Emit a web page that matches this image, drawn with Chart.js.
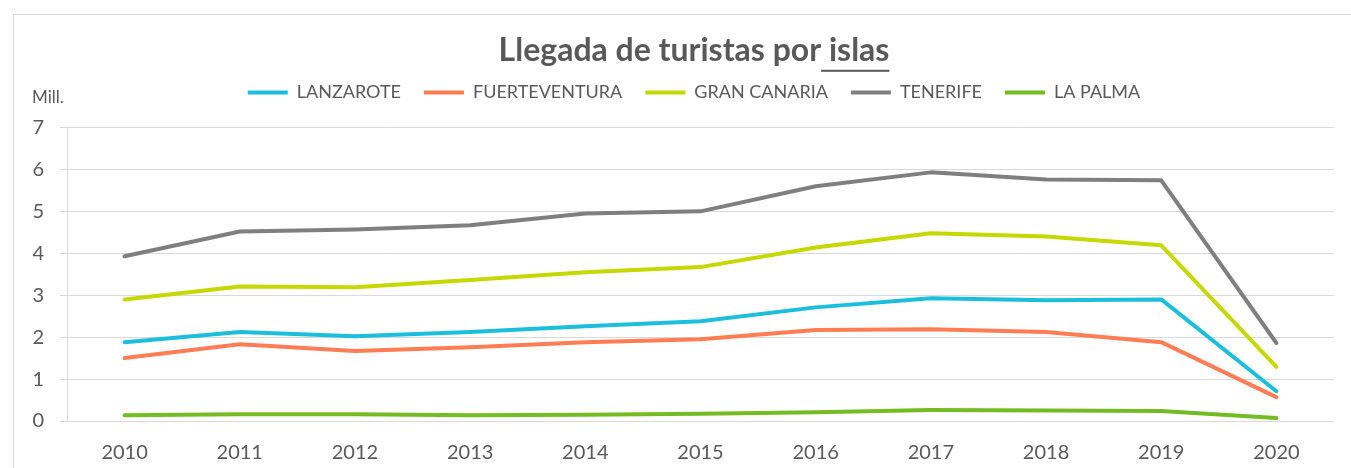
<!DOCTYPE html>
<html><head><meta charset="utf-8">
<script src="https://cdn.jsdelivr.net/npm/chart.js@4/dist/chart.umd.min.js"></script>
<style>
html,body{margin:0;padding:0;overflow:hidden;background:#fff;width:1351px;height:468px}
#wrap{position:absolute;left:0;top:0;width:1375px;height:468px}
</style></head><body>
<div id="wrap"><canvas id="c" width="1375" height="468"></canvas></div>
<script>
const years = ['2010','2011','2012','2013','2014','2015','2016','2017','2018','2019','2020'];
const lanzarote     = [1.88, 2.12, 2.02, 2.12, 2.26, 2.38, 2.71, 2.93, 2.88, 2.90, 0.71];
const fuerteventura = [1.50, 1.83, 1.67, 1.76, 1.88, 1.95, 2.17, 2.19, 2.12, 1.88, 0.57];
const granCanaria   = [2.90, 3.21, 3.19, 3.36, 3.55, 3.67, 4.14, 4.48, 4.40, 4.19, 1.29];
const tenerife      = [3.93, 4.52, 4.57, 4.67, 4.95, 5.00, 5.60, 5.93, 5.76, 5.74, 1.86];
const laPalma       = [0.14, 0.16, 0.16, 0.14, 0.15, 0.17, 0.21, 0.26, 0.25, 0.24, 0.07];
const seriesNames = ['LANZAROTE','FUERTEVENTURA','GRAN CANARIA','TENERIFE','LA PALMA'];
const seriesColors = ['#1bbfdc','#ff7d55','#c5d800','#7f7f7f','#74bc22'];
const titleMain = 'Llegada de turistas por';
const titleUnderlined = ' islas';
const unitLabel = 'Mill.';

const TXT = '#595959';
const FONT = 'Lato';
const TITLE_SIZE = 32;

const seriesData = [lanzarote, fuerteventura, granCanaria, tenerife, laPalma];
const datasets = seriesNames.map((n, i) => ({
  label: n, data: seriesData[i], borderColor: seriesColors[i], backgroundColor: seriesColors[i],
  borderWidth: 4, pointRadius: 0, pointHoverRadius: 0, tension: 0, fill: false,
  borderCapStyle: 'round', borderJoinStyle: 'round', pointStyle: 'line'
}));

function makeSpacer(position, size, weight) {
  return {
    position, weight, fullSize: false, options: {}, top: 0, left: 0, right: 0, bottom: 0, width: 0, height: 0,
    isHorizontal() { return position === 'top' || position === 'bottom'; },
    update(maxW, maxH) {
      if (this.isHorizontal()) { this.width = maxW; this.height = size; }
      else { this.width = size; this.height = maxH; }
    },
    draw() {}
  };
}

const spacers = {
  id: 'spacers',
  beforeInit(chart) {
    const boxes = [makeSpacer('top', 16, -10), makeSpacer('right', 41, 0)];
    boxes.forEach(b => {
      if (Chart.layouts && Chart.layouts.addBox) Chart.layouts.addBox(chart, b);
      else { b._layers = () => [{ z: 0, draw() {} }]; chart.boxes.push(b); }
    });
  }
};

const decor = {
  id: 'decor',
  beforeDraw(chart) {
    const ctx = chart.ctx;
    ctx.save();
    ctx.strokeStyle = '#d9d9d9';
    ctx.lineWidth = 1;
    ctx.strokeRect(13.5, 14.5, 1500, 600);
    ctx.restore();
  },
  afterDraw(chart) {
    const ctx = chart.ctx;
    const t = chart.titleBlock;
    const opts = t.options;
    ctx.save();
    ctx.font = 'bold ' + TITLE_SIZE + 'px ' + FONT;
    const full = titleMain + titleUnderlined;
    const fw = ctx.measureText(full).width;
    const cx = (t.left + t.right) / 2;
    const x0 = cx - fw / 2 + ctx.measureText(titleMain).width;
    const x1 = cx + fw / 2;
    const mid = t.top + opts.padding.top + TITLE_SIZE / 2;
    ctx.fillStyle = TXT;
    ctx.fillRect(x0, mid + 0.4 * TITLE_SIZE + 6, x1 - x0, 2);
    ctx.font = '17px ' + FONT;
    ctx.textBaseline = 'middle';
    ctx.textAlign = 'left';
    ctx.fillText(unitLabel, 32, 98);
    ctx.restore();
  }
};

new Chart(document.getElementById('c'), {
  type: 'line',
  data: { labels: years, datasets },
  options: {
    responsive: false, animation: false, devicePixelRatio: 1,
    layout: { padding: { left: 13, right: 0, top: 0, bottom: 0 } },
    plugins: {
      title: { display: true, text: titleMain + titleUnderlined, color: TXT,
        font: { family: FONT, size: TITLE_SIZE, weight: 'bold', lineHeight: 1 },
        padding: { top: 35, bottom: -6.5 } },
      legend: { display: true, position: 'top', align: 'center',
        labels: { usePointStyle: true, pointStyle: 'line', pointStyleWidth: 40, color: TXT,
          font: { family: FONT, size: 18 }, padding: 23 } },
      tooltip: { enabled: false }
    },
    scales: {
      x: { offset: true, grid: { display: false, drawTicks: false, offset: true }, border: { display: false },
        ticks: { color: TXT, font: { family: FONT, size: 20 }, padding: 20, maxRotation: 0 },
        afterFit(s) { s.height = 47; } },
      y: { min: 0, max: 7, grid: { color: '#d9d9d9', tickLength: 7, drawTicks: true },
        border: { display: true, color: '#d9d9d9' },
        ticks: { stepSize: 1, color: TXT, font: { family: FONT, size: 20 }, padding: 16 },
        afterFit(s) { s.width = 54; } }
    }
  },
  plugins: [spacers, decor]
});
</script></body></html>
